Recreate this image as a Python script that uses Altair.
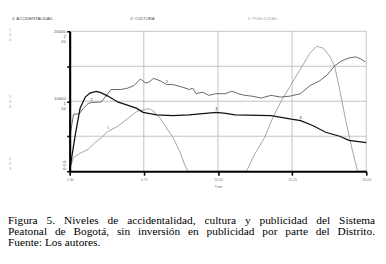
import altair as alt
import pandas as pd

# ---------------- data ----------------
time_ticks = [1.0, 5.75, 10.5, 15.25, 20.0]

acc_t = [1.0, 1.36, 1.67, 2.0, 2.3, 2.7, 3.0, 3.45, 4.07, 4.7, 5.3, 5.7, 6.57, 7.6,
         8.65, 9.7, 10.4, 11.0, 11.6, 13.9, 15.2, 15.8, 16.6, 17.4, 18.3, 18.9, 20.0]
acc_v = [100, 5240, 9020, 10600, 11160, 11400, 11220, 10740, 9900, 9440, 8980, 8420,
         8040, 7940, 8040, 8280, 8420, 8280, 8040, 7940, 7440, 7240, 6500, 5570, 5000,
         4400, 4080]

cul_t = [1.0, 1.25, 1.61, 1.88, 2.19, 2.40, 3.03, 3.34, 3.65, 4.28, 4.70, 5.12, 5.53,
         5.85, 6.06, 6.37, 6.79, 7.21, 7.63, 8.25, 8.67, 8.88, 9.09, 9.51, 9.92, 10.34,
         10.97, 11.39, 11.80, 12.22, 12.64, 13.27, 13.90, 14.52, 15.15, 15.78, 16.40,
         17.03, 17.55, 17.97, 18.39, 18.91, 19.33, 19.64, 19.95]
cul_v = [0.478, 0.814, 0.82, 0.90, 0.968, 0.982, 0.99, 1.08, 1.168, 1.168, 1.186, 1.224,
         1.318, 1.262, 1.27, 1.326, 1.294, 1.238, 1.238, 1.20, 1.168, 1.186, 1.108, 1.13,
         1.084, 1.108, 1.108, 1.144, 1.108, 1.084, 1.074, 1.046, 1.084, 1.06, 1.074,
         1.108, 1.224, 1.294, 1.388, 1.504, 1.574, 1.62, 1.634, 1.606, 1.56]

pub_t = [1.0, 1.04, 1.25, 1.56, 2.19, 2.61, 3.03, 3.45, 4.07, 4.70, 5.33, 5.75, 6.06,
         6.37, 6.79, 7.21, 7.63, 8.04, 8.35, 8.57, 12.33, 12.85, 13.48, 14.0, 14.52,
         15.15, 15.78, 16.40, 16.82, 17.24, 17.66, 17.97, 18.29, 18.70, 19.12, 19.43,
         19.5, 20.0]
pub_v = [0.0, 0.58, 1.98, 2.44, 3.14, 4.08, 4.78, 5.70, 6.40, 7.48, 8.60, 8.74, 8.98,
         8.60, 7.58, 6.18, 4.78, 2.90, 1.04, 0.0, 0.0, 2.44, 4.78, 7.58, 9.90, 12.24,
         14.58, 16.90, 17.84, 17.60, 16.44, 15.04, 11.78, 7.10, 2.90, 0.12, 0.0, 0.0]

y_ticks = [0, 5000, 10000, 15000, 20000]
series_names = ["1: ACCIDENTALIDAD", "2: CULTURA", "3: PUBLICIDAD"]
series_max = [20000, 2, 20]

caption_lines = [
    "Figura 5. Niveles de accidentalidad, cultura y publicidad del Sistema",
    "Peatonal de Bogotá, sin inversión en publicidad por parte del Distrito.",
    "Fuente: Los autores.",
]

# ---------------- layout ----------------
W, H = 303, 143            # plot area
PAD = {"left": 63, "top": 21, "right": 12, "bottom": 92}
OX, OY = 71, 29            # page position of the plot origin

def rx(px):
    return px - OX

def ry(py):
    return py - OY

FONT = "Liberation Sans"
SERIF = "Liberation Serif"
GRID = "#c2c2c2"

x_scale = alt.Scale(domain=[1, 20], nice=False, zero=False)
y1_scale = alt.Scale(domain=[0, series_max[0]], nice=False)

x_axis = alt.Axis(values=time_ticks, format=".2f", labelFontSize=3.6, labelColor="#777",
                  labelFont=FONT, grid=False,
                  domainColor="#000", domainWidth=2.2, tickColor="#000", tickWidth=1.6,
                  tickSize=4, labelPadding=2, title="Time", titleFontSize=3.6,
                  titleFontWeight="normal", titleColor="#777", titleFont=FONT,
                  titlePadding=4, labelFlush=False, zindex=2)

def xenc():
    return alt.X("t:Q", scale=x_scale, axis=x_axis)

y1_axis = alt.Axis(values=y_ticks, labels=False, grid=False, domainColor="#000",
                   domainWidth=2.2, tickColor="#000", tickWidth=1.6, tickSize=3,
                   title=None, zindex=2)

acc = pd.DataFrame({"t": acc_t, "v": acc_v})
cul = pd.DataFrame({"t": cul_t, "v": cul_v})
pub = pd.DataFrame({"t": pub_t, "v": pub_v})

# grid lines as two-point line segments through the scales
grid_rows = []
for k, tt in enumerate(time_ticks[1:]):
    grid_rows += [[tt, y_ticks[0], f"v{k}"], [tt, y_ticks[-1], f"v{k}"]]
for k, yy in enumerate(y_ticks[1:]):
    grid_rows += [[time_ticks[0], yy, f"h{k}"], [time_ticks[-1], yy, f"h{k}"]]
grid_df = pd.DataFrame(grid_rows, columns=["t", "v", "g"])
grid = alt.Chart(grid_df).mark_line(color=GRID, strokeWidth=1).encode(
    x=xenc(), y=alt.Y("v:Q", scale=y1_scale, axis=None), detail="g:N")

l_acc = alt.Chart(acc).mark_line(color="#111", strokeWidth=1.3).encode(
    x=xenc(), y=alt.Y("v:Q", scale=y1_scale, axis=y1_axis))
l_cul = alt.Chart(cul).mark_line(color="#555", strokeWidth=0.9).encode(
    x=xenc(),
    y=alt.Y("v:Q", scale=alt.Scale(domain=[0, series_max[1]], nice=False), axis=None))
l_pub = alt.Chart(pub).mark_line(color="#9a9a9a", strokeWidth=0.9).encode(
    x=xenc(),
    y=alt.Y("v:Q", scale=alt.Scale(domain=[0, series_max[2]], nice=False), axis=None))

# small series numbers drawn on the curves
def marks_on(df, idxs, label, mx, color):
    d = df.iloc[idxs].copy()
    d["lab"] = label
    return alt.Chart(d).mark_text(fontSize=4.5, font=FONT, color=color, dy=-3).encode(
        x=xenc(),
        y=alt.Y("v:Q", scale=alt.Scale(domain=[0, mx], nice=False), axis=None),
        text="lab:N")

n_acc = marks_on(acc, [16, 21], "1", series_max[0], "#111")
n_cul = marks_on(cul, [5, 17], "2", series_max[1], "#555")
n_pub = marks_on(pub, [7], "3", series_max[2], "#9a9a9a")

# pixel-positioned text helper
def ptext(rows, size, color, align="left", font=FONT, angle=0, baseline="middle"):
    d = pd.DataFrame(rows, columns=["px", "py", "txt"])
    return alt.Chart(d).mark_text(fontSize=size, color=color, align=align, font=font,
                                  angle=angle, baseline=baseline).encode(
        x=alt.X("px:Q", scale=None, axis=None),
        y=alt.Y("py:Q", scale=None, axis=None),
        text="txt:N")

legend = alt.layer(
    ptext([[rx(12), ry(16), series_names[0]]], 4.3, "#444"),
    ptext([[rx(133), ry(16), series_names[1]]], 4.3, "#555"),
    ptext([[rx(253), ry(16), series_names[2]]], 4.3, "#aaa"),
)

ylabels = alt.layer(
    ptext([[rx(67), ry(30), str(series_max[0])], [rx(67), ry(35), str(series_max[1])],
           [rx(67), ry(40), str(series_max[2])]], 4.3, "#555", align="right"),
    ptext([[rx(67), ry(98), str(series_max[0] // 2)], [rx(67), ry(103), str(series_max[1] // 2)],
           [rx(67), ry(108), str(series_max[2] // 2)]], 4.3, "#555", align="right"),
    ptext([[rx(66), ry(166), "0  0  0"]], 4.3, "#555", align="center", angle=270),
)

side = ptext([[rx(9), ry(y0 + k * 5), f"{k + 1}:"] for y0 in (28, 96, 160) for k in range(3)],
             3.6, "#999", align="left")

# justified caption (Times metrics)
CW = {' ': 250, '.': 250, ',': 250, ':': 278, '5': 500,
      'a': 444, 'b': 500, 'c': 444, 'd': 500, 'e': 444, 'f': 333, 'g': 500, 'h': 500,
      'i': 278, 'j': 278, 'k': 500, 'l': 278, 'm': 778, 'n': 500, 'o': 500, 'p': 500,
      'q': 500, 'r': 333, 's': 389, 't': 278, 'u': 500, 'v': 500, 'w': 722, 'x': 500,
      'y': 500, 'z': 444, 'á': 444, 'ó': 500,
      'B': 667, 'D': 722, 'F': 556, 'L': 611, 'N': 722, 'P': 556, 'S': 556}

def tw(s, fs):
    return sum(CW.get(c, 500) for c in s) * fs / 1000.0

CAP_FS = 11.6
CAP_L, CAP_R = 8, 383
cap_base = [226, 237, 248]
cap_rows = []
for i, line in enumerate(caption_lines):
    words = line.split(" ")
    if i < 2:
        total = sum(tw(w, CAP_FS) for w in words)
        gap = (CAP_R - CAP_L - total) / (len(words) - 1)
    else:
        gap = tw(" ", CAP_FS)
    x = CAP_L
    for w in words:
        cap_rows.append([rx(x), ry(cap_base[i]), w])
        x += tw(w, CAP_FS) + gap

caption = ptext(cap_rows, CAP_FS, "#000", align="left", font=SERIF, baseline="alphabetic")

chart = alt.layer(
    grid, l_pub, l_cul, l_acc, n_acc, n_cul, n_pub, legend, ylabels, side, caption
).resolve_scale(y="independent").properties(
    width=W, height=H, padding=PAD, autosize=alt.AutoSizeParams(type="none"),
    background="white"
).configure_view(stroke=None)

chart.save("out.html", embed_options={"renderer": "svg", "actions": False})
